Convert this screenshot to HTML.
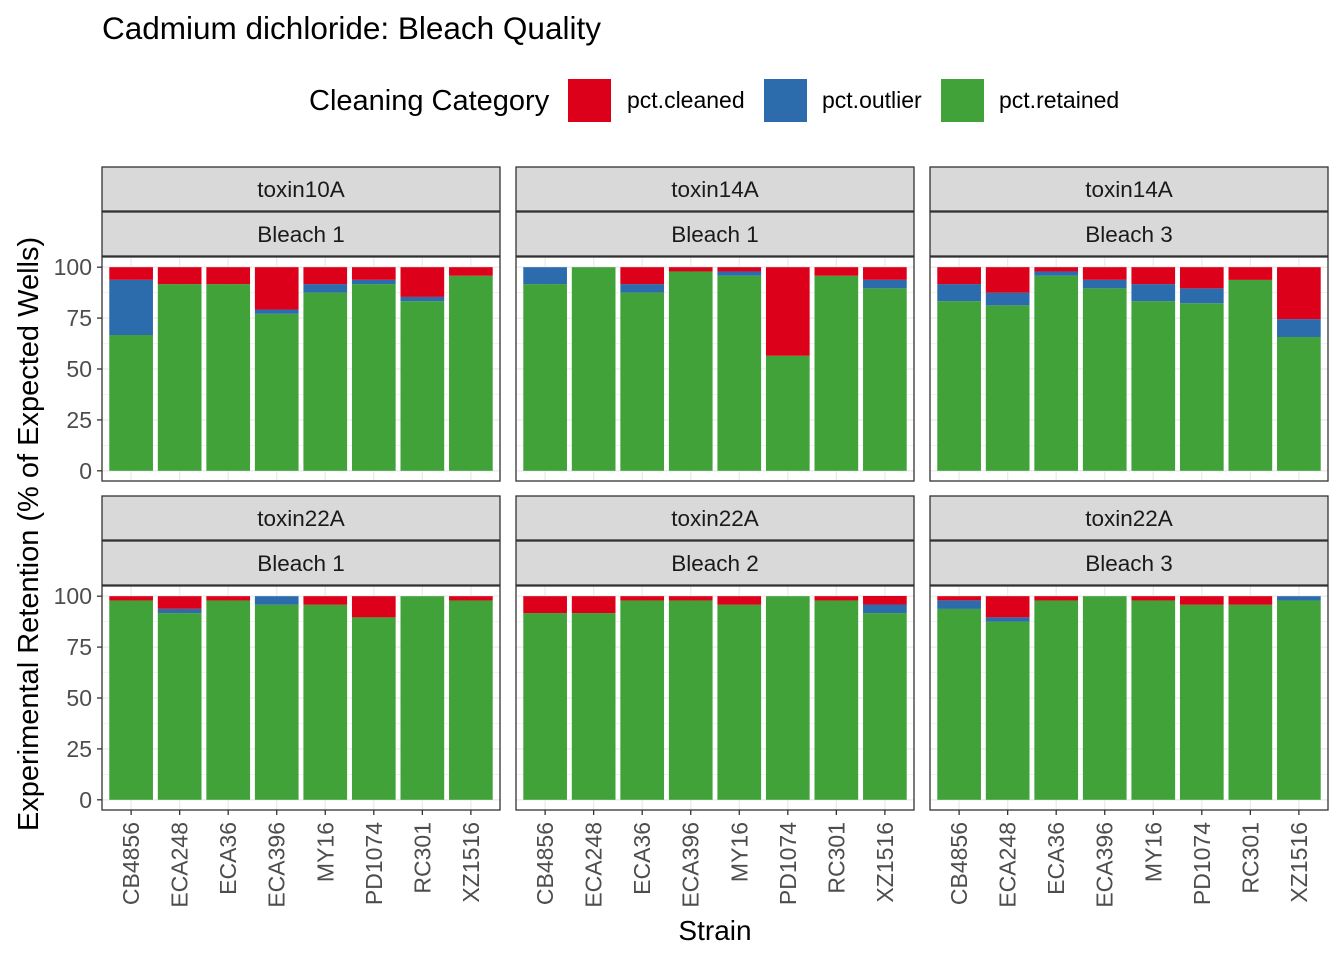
<!DOCTYPE html>
<html><head><meta charset="utf-8"><style>
body{margin:0;background:#fff}
svg{display:block;font-family:"Liberation Sans",Arial,sans-serif}
</style></head><body>
<svg id="chart" width="1344" height="960" viewBox="0 0 1344 960">
<rect width="1344" height="960" fill="#fff"/>
<text x="102" y="39" font-size="31.5" fill="#000">Cadmium dichloride: Bleach Quality</text>
<g>
<text x="309" y="110" font-size="29">Cleaning Category</text>
<rect x="568" y="79" width="43" height="43" fill="#DC001A"/>
<text x="627" y="108" font-size="23">pct.cleaned</text>
<rect x="764" y="79" width="43" height="43" fill="#2C6BAC"/>
<text x="822" y="108" font-size="23">pct.outlier</text>
<rect x="941" y="79" width="43" height="43" fill="#41A23A"/>
<text x="999" y="108" font-size="23">pct.retained</text>
</g>
<text transform="translate(38,534) rotate(-90)" text-anchor="middle" font-size="29">Experimental Retention (% of Expected Wells)</text>
<text x="715" y="940" text-anchor="middle" font-size="28">Strain</text>
<g id="panels"></g>
</svg>
<script>
const strains = ["CB4856","ECA248","ECA36","ECA396","MY16","PD1074","RC301","XZ1516"];
const toxins = ["toxin10A","toxin14A","toxin14A","toxin22A","toxin22A","toxin22A"];
const bleaches = ["Bleach 1","Bleach 1","Bleach 3","Bleach 1","Bleach 2","Bleach 3"];
const yTicks = [0,25,50,75,100];
const retained = [
 [66.7,91.7,91.7,77.1,87.5,91.7,83.3,95.8],
 [91.7,100,87.5,97.9,95.8,56.5,95.8,89.6],
 [83.3,81.25,95.8,89.6,83.3,82.3,93.75,65.7],
 [97.9,91.7,97.9,95.8,95.8,89.6,100,97.9],
 [91.7,91.7,97.9,97.9,95.8,100,97.9,91.7],
 [93.75,87.5,97.9,100,97.9,95.8,95.8,97.9]
];
const outlier = [
 [27.1,0,0,2.1,4.2,2.1,2.1,0],
 [8.3,0,4.2,0,2.1,0,0,4.2],
 [8.4,6.25,2.1,4.2,8.4,7.3,0,8.8],
 [0,2.1,0,4.2,0,0,0,0],
 [0,0,0,0,0,0,0,4.2],
 [4.2,2.1,0,0,0,0,0,2.1]
];
const cleaned = [
 [6.2,8.3,8.3,20.8,8.3,6.2,14.6,4.2],
 [0,0,8.3,2.1,2.1,43.5,4.2,6.2],
 [8.3,12.5,2.1,6.2,8.3,10.4,6.25,25.5],
 [2.1,6.2,2.1,0,4.2,10.4,0,2.1],
 [8.3,8.3,2.1,2.1,4.2,0,2.1,4.2],
 [2.05,10.4,2.1,0,2.1,4.2,4.2,0]
];
const NS="http://www.w3.org/2000/svg";
const g=document.getElementById('panels');
function mk(tag,attrs,parent){const e=document.createElementNS(NS,tag);for(const k in attrs)e.setAttribute(k,attrs[k]);(parent||g).appendChild(e);return e;}
const panelX=[102,516,930], panelW=398;
const rowTop=[167,496];
for(let p=0;p<6;p++){
  const col=p%3,row=Math.floor(p/3);
  const x0=panelX[col], top=rowTop[row];
  const py0=top+90, py1=py0+224;
  const xs=i=>x0+(i+1-0.4)*panelW/8.2;
  const bw=0.9*panelW/8.2;
  const ys=v=>py1-(v+5)*224/110;
  const pg=mk('g',{});
  
  
  const s1=mk('rect',{x:x0,y:top,width:panelW,height:44,fill:'#D9D9D9',stroke:'#333','stroke-width':1.3},pg);
  
  
  const t1=mk('text',{x:x0+panelW/2,y:top+30,'text-anchor':'middle','font-size':22.5,fill:'#1a1a1a'},pg);t1.textContent=toxins[p];
  
  
  const s2=mk('rect',{x:x0,y:top+45,width:panelW,height:44,fill:'#D9D9D9',stroke:'#333','stroke-width':1.3},pg);
  
  
  const t2=mk('text',{x:x0+panelW/2,y:top+75,'text-anchor':'middle','font-size':22.5,fill:'#1a1a1a'},pg);t2.textContent=bleaches[p];
  
  
  for(let v=-12.5;v<=112.5;v+=12.5){ if(v<-5||v>105)continue;
    mk('line',{x1:x0,x2:x0+panelW,y1:ys(v),y2:ys(v),stroke:'#EBEBEB','stroke-width':(v%25===0)?1.3:0.7},pg);}
  strains.forEach((s,i)=>mk('line',{x1:xs(i),x2:xs(i),y1:py0,y2:py1,stroke:'#EBEBEB','stroke-width':1.3},pg));
  strains.forEach((s,i)=>{
    const r=retained[p][i],o=outlier[p][i],c=cleaned[p][i];
    const segs=[[0,r,'#41A23A','retained'],[r,r+o,'#2C6BAC','outlier'],[r+o,r+o+c,'#DC001A','cleaned']];
    segs.forEach(([a,b,colr,nm])=>{ if(b-a<=0)return;
      const e=mk('rect',{x:xs(i)-bw/2,y:ys(b),width:bw,height:ys(a)-ys(b),fill:colr},pg);
      
      
    });
  });
  mk('rect',{x:x0,y:py0,width:panelW,height:224,fill:'none',stroke:'#333','stroke-width':1.3},pg);
  if(col===0){
    yTicks.forEach(v=>{
      mk('line',{x1:x0-5,x2:x0,y1:ys(v),y2:ys(v),stroke:'#333','stroke-width':1.3},pg);
      const t=mk('text',{x:x0-10,y:ys(v)+8,'text-anchor':'end','font-size':23,fill:'#4d4d4d'},pg);t.textContent=v;
      
      
    });
  }
  if(row===1){
    strains.forEach((s,i)=>{
      mk('line',{x1:xs(i),x2:xs(i),y1:py1,y2:py1+5,stroke:'#333','stroke-width':1.3},pg);
      const t=mk('text',{transform:`translate(${xs(i)+8},${py1+12}) rotate(-90)`,'text-anchor':'end','font-size':23,fill:'#4d4d4d'},pg);t.textContent=s;
      
      
    });
  }
}
</script>
</body></html>
